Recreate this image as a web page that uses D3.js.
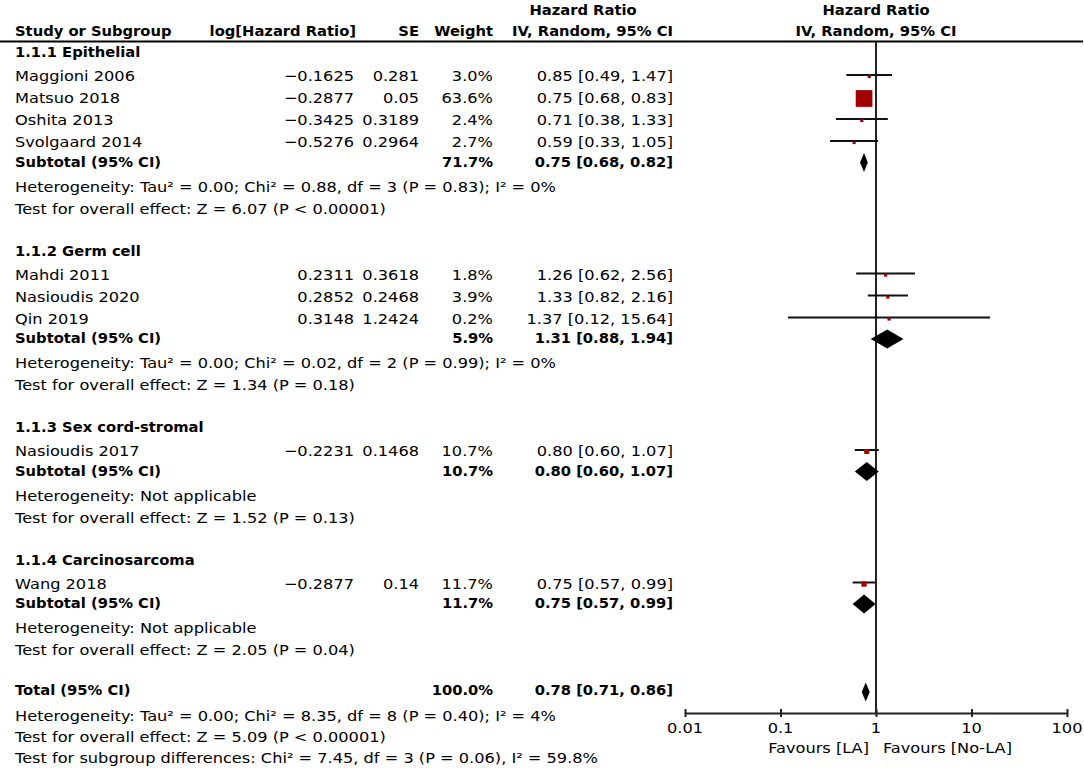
<!DOCTYPE html>
<html>
<head>
<meta charset="utf-8">
<script src="https://cdn.jsdelivr.net/npm/d3@7"></script>
<style>
  body { margin: 0; background: #fff; }
  text { font-family: "DejaVu Sans", sans-serif; fill: #000; }
</style>
</head>
<body>
<script>
// study level data
const studyNames = ["Maggioni 2006", "Matsuo 2018", "Oshita 2013", "Svolgaard 2014",
  "Mahdi 2011", "Nasioudis 2020", "Qin 2019", "Nasioudis 2017", "Wang 2018"];
const studyGroup = [0, 0, 0, 0, 1, 1, 1, 2, 3];
const logHR = ["−0.1625", "−0.2877", "−0.3425", "−0.5276", "0.2311", "0.2852", "0.3148", "−0.2231", "−0.2877"];
const seText = ["0.281", "0.05", "0.3189", "0.2964", "0.3618", "0.2468", "1.2424", "0.1468", "0.14"];
const weights = [3.0, 63.6, 2.4, 2.7, 1.8, 3.9, 0.2, 10.7, 11.7];
const hr = [0.85, 0.75, 0.71, 0.59, 1.26, 1.33, 1.37, 0.80, 0.75];
const hrLo = [0.49, 0.68, 0.38, 0.33, 0.62, 0.82, 0.12, 0.60, 0.57];
const hrHi = [1.47, 0.83, 1.33, 1.05, 2.56, 2.16, 15.64, 1.07, 0.99];

// subgroup level data
const groupNames = ["1.1.1 Epithelial", "1.1.2 Germ cell", "1.1.3 Sex cord-stromal", "1.1.4 Carcinosarcoma"];
const subWeight = ["71.7%", "5.9%", "10.7%", "11.7%"];
const subHR = [0.75, 1.31, 0.80, 0.75];
const subLo = [0.68, 0.88, 0.60, 0.57];
const subHi = [0.82, 1.94, 1.07, 0.99];
const hetText = [
  "Heterogeneity: Tau² = 0.00; Chi² = 0.88, df = 3 (P = 0.83); I² = 0%",
  "Heterogeneity: Tau² = 0.00; Chi² = 0.02, df = 2 (P = 0.99); I² = 0%",
  "Heterogeneity: Not applicable",
  "Heterogeneity: Not applicable"];
const effectText = [
  "Test for overall effect: Z = 6.07 (P < 0.00001)",
  "Test for overall effect: Z = 1.34 (P = 0.18)",
  "Test for overall effect: Z = 1.52 (P = 0.13)",
  "Test for overall effect: Z = 2.05 (P = 0.04)"];

// overall
const totalWeight = "100.0%";
const totalHR = [0.78, 0.71, 0.86];
const totalText = [
  "Heterogeneity: Tau² = 0.00; Chi² = 8.35, df = 8 (P = 0.40); I² = 4%",
  "Test for overall effect: Z = 5.09 (P < 0.00001)",
  "Test for subgroup differences: Chi² = 7.45, df = 3 (P = 0.06), I² = 59.8%"];

const tickValues = [0.01, 0.1, 1, 10, 100];
const tickLabels = ["0.01", "0.1", "1", "10", "100"];
const favourLabels = ["Favours [LA]", "Favours [No-LA]"];

// layout
const W = 1084, H = 772;
const col = { study: 15, logHR: 354, se: 419, weight: 493, ci: 673 };
const fs = 14.6, sxReg = 1.11, sxBold = 1.01;
const axisY = 713;
const f2 = d3.format(".2f");
const ciLabel = (m, l, h) => `${f2(m)} [${f2(l)}, ${f2(h)}]`;

const x = d3.scaleLog().domain([0.01, 100]).range([685, 1067]);
const boxSize = d3.scalePow().exponent(0.675).domain([0, 63.6]).range([0, 16.7]);

const svg = d3.select("body").append("svg")
  .attr("width", W).attr("height", H);

function put(x0, y0, s, opt = {}) {
  const bold = !!opt.bold;
  return svg.append("text")
    .attr("transform", `translate(${x0},${y0}) scale(${bold ? sxBold : sxReg},1)`)
    .attr("dy", "0.36em")
    .attr("text-anchor", opt.anchor || "start")
    .style("font-size", fs + "px")
    .style("font-weight", bold ? "bold" : "normal")
    .text(s);
}

// build the row sequence
const rows = [];
let y = 52;
groupNames.forEach((g, gi) => {
  if (gi > 0) y += 42;
  rows.push({ type: "group", gi, y });
  const idx = studyGroup.map((d, i) => d === gi ? i : -1).filter(i => i >= 0);
  idx.forEach((si, k) => {
    y += k === 0 ? 24 : 22;
    rows.push({ type: "study", si, y });
  });
  y += 19.5; rows.push({ type: "sub", gi, y });
  y += 25; rows.push({ type: "het", gi, y });
  y += 22; rows.push({ type: "effect", gi, y });
});
y += 40; rows.push({ type: "total", y });
y += 26; rows.push({ type: "tnote", k: 0, y });
y += 21; rows.push({ type: "tnote", k: 1, y });
y += 21; rows.push({ type: "tnote", k: 2, y });

// header
put(583, 10, "Hazard Ratio", { bold: true, anchor: "middle" });
put(x(1), 10, "Hazard Ratio", { bold: true, anchor: "middle" });
put(col.study, 31, "Study or Subgroup", { bold: true });
put(col.logHR + 2, 31, "log[Hazard Ratio]", { bold: true, anchor: "end" });
put(col.se, 31, "SE", { bold: true, anchor: "end" });
put(col.weight, 31, "Weight", { bold: true, anchor: "end" });
put(col.ci, 31, "IV, Random, 95% CI", { bold: true, anchor: "end" });
put(x(1), 31, "IV, Random, 95% CI", { bold: true, anchor: "middle" });

svg.append("line")
  .attr("x1", 0).attr("x2", 1083).attr("y1", 41.5).attr("y2", 41.5)
  .attr("stroke", "#000").attr("stroke-width", 2);

// line of no effect
svg.append("line")
  .attr("x1", x(1)).attr("x2", x(1)).attr("y1", 42).attr("y2", axisY)
  .attr("stroke", "#222").attr("stroke-width", 2);

const diamond = (m, l, h, yc) => {
  const hh = 9.5;
  return `M${x(l)},${yc} L${x(m)},${yc - hh} L${x(h)},${yc} L${x(m)},${yc + hh} Z`;
};

rows.forEach(r => {
  if (r.type === "group") {
    put(col.study, r.y, groupNames[r.gi], { bold: true });
  } else if (r.type === "study") {
    const i = r.si;
    put(col.study, r.y, studyNames[i]);
    put(col.logHR, r.y, logHR[i], { anchor: "end" });
    put(col.se, r.y, seText[i], { anchor: "end" });
    put(col.weight, r.y, d3.format(".1f")(weights[i]) + "%", { anchor: "end" });
    put(col.ci, r.y, ciLabel(hr[i], hrLo[i], hrHi[i]), { anchor: "end" });
    svg.append("line")
      .attr("x1", x(hrLo[i])).attr("x2", x(hrHi[i]))
      .attr("y1", r.y - 1).attr("y2", r.y - 1)
      .attr("stroke", "#111").attr("stroke-width", 2);
    const s = Math.max(3.2, boxSize(weights[i]));
    svg.append("rect")
      .attr("x", x(hr[i]) - s / 2).attr("y", r.y + 0.5 - s / 2)
      .attr("width", s).attr("height", s)
      .attr("fill", "#a30000");
  } else if (r.type === "sub") {
    const g = r.gi;
    put(col.study, r.y, "Subtotal (95% CI)", { bold: true });
    put(col.weight, r.y, subWeight[g], { bold: true, anchor: "end" });
    put(col.ci, r.y, ciLabel(subHR[g], subLo[g], subHi[g]), { bold: true, anchor: "end" });
    svg.append("path")
      .attr("d", diamond(subHR[g], subLo[g], subHi[g], r.y + 1))
      .attr("fill", "#000");
  } else if (r.type === "het") {
    put(col.study, r.y, hetText[r.gi]);
  } else if (r.type === "effect") {
    put(col.study, r.y, effectText[r.gi]);
  } else if (r.type === "total") {
    put(col.study, r.y, "Total (95% CI)", { bold: true });
    put(col.weight, r.y, totalWeight, { bold: true, anchor: "end" });
    put(col.ci, r.y, ciLabel(...totalHR), { bold: true, anchor: "end" });
    svg.append("path")
      .attr("d", diamond(totalHR[0], totalHR[1], totalHR[2], r.y + 2))
      .attr("fill", "#000");
  } else if (r.type === "tnote") {
    put(col.study, r.y, totalText[r.k]);
  }
});

// axis
const axis = svg.append("g")
  .attr("transform", `translate(0,${axisY})`)
  .call(d3.axisBottom(x)
    .tickValues(tickValues)
    .tickFormat((d, i) => tickLabels[i])
    .tickSizeOuter(0)
    .tickSizeInner(8)
    .tickPadding(0));
axis.select(".domain").attr("stroke", "#222").attr("stroke-width", 2);
axis.selectAll(".tick line")
  .attr("y1", -4).attr("y2", 4)
  .attr("stroke", "#222").attr("stroke-width", 2);
axis.selectAll(".tick text").remove();
tickValues.forEach((v, i) => put(x(v), axisY + 15, tickLabels[i], { anchor: "middle" }));

put(x(1) - 7, axisY + 35, favourLabels[0], { anchor: "end" });
put(x(1) + 7, axisY + 35, favourLabels[1]);
</script>
</body>
</html>
